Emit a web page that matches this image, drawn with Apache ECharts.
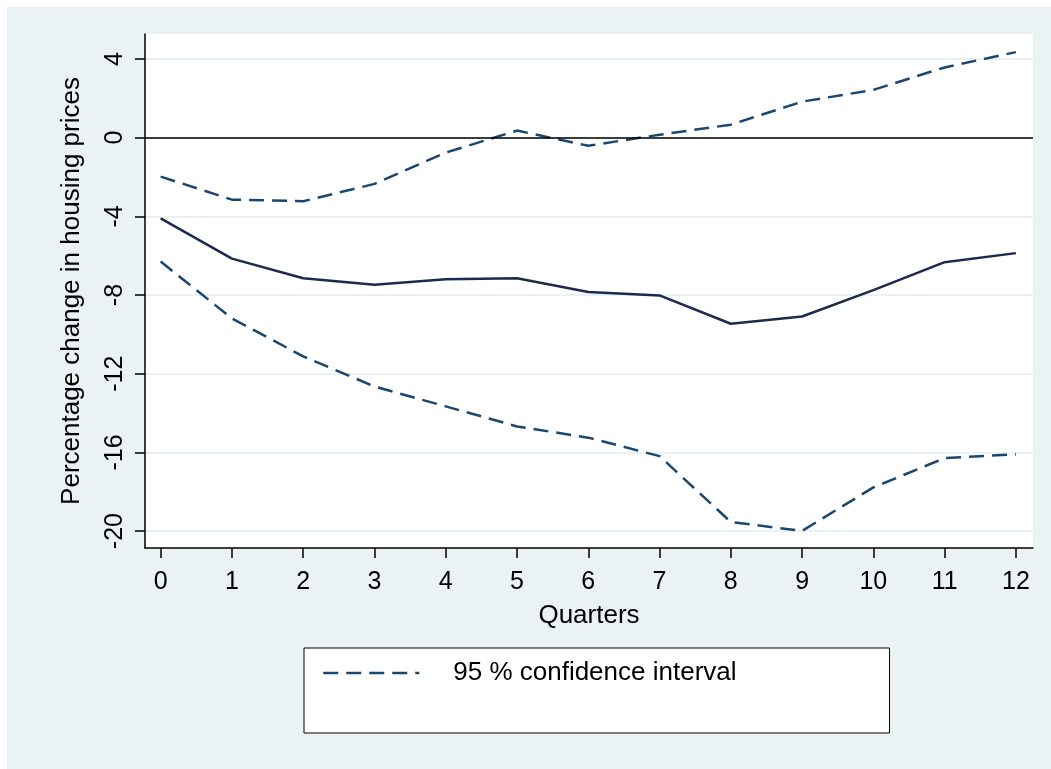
<!DOCTYPE html>
<html>
<head>
<meta charset="utf-8">
<script src="https://cdn.jsdelivr.net/npm/echarts@6/dist/echarts.min.js"></script>
<style>
  html, body { margin: 0; padding: 0; background: #ffffff; }
  #chart { position: absolute; left: 7px; top: 7px; width: 1044px; height: 762px; }
</style>
</head>
<body>
<div id="chart"></div>
<script>
// ---- data ----
const quarters = [0, 1, 2, 3, 4, 5, 6, 7, 8, 9, 10, 11, 12];
const meanChange = [-4.1, -6.15, -7.15, -7.48, -7.2, -7.15, -7.85, -8.02, -9.46, -9.09, -7.75, -6.33, -5.87];
const upperCI = [-1.98, -3.15, -3.23, -2.35, -0.76, 0.36, -0.41, 0.15, 0.66, 1.83, 2.43, 3.57, 4.35];
const lowerCI = [-6.3, -9.19, -11.12, -12.65, -13.66, -14.68, -15.25, -16.19, -19.54, -19.99, -17.78, -16.29, -16.1];
const xTickValues = [0, 1, 2, 3, 4, 5, 6, 7, 8, 9, 10, 11, 12];
const yTickValues = [-20, -16, -12, -8, -4, 0, 4];
const ciLabel = '95 % confidence interval';

const pairs = (ys) => quarters.map((q, i) => [q, ys[i]]);
const FONT = '"Liberation Sans", Arial, Helvetica, sans-serif';
const navy = '#1a476f';
const darkNavy = '#1c2a4e';

const chart = echarts.init(document.getElementById('chart'), null, { renderer: 'canvas' });
chart.setOption({
  backgroundColor: '#eaf2f3',
  animation: false,
  textStyle: { fontFamily: FONT },
  grid: {
    left: 138, top: 27, width: 888, height: 514,
    show: true, backgroundColor: '#ffffff', borderWidth: 0,
    containLabel: false, outerBoundsMode: 'none'
  },
  legend: {
    left: 297, top: 641,
    data: [ciLabel],
    backgroundColor: '#ffffff',
    borderColor: '#000000', borderWidth: 1, borderRadius: 0,
    padding: [12, 153, 47, 18],
    itemWidth: 96, itemHeight: 14,
    itemStyle: { opacity: 0 },
    lineStyle: { color: navy, width: 2.5, type: [15, 8] },
    textStyle: { fontSize: 26, color: '#000000', fontFamily: FONT, padding: [0, 0, 0, 29] },
    selectedMode: false
  },
  xAxis: {
    type: 'value', min: -0.22, max: 12.24,
    name: 'Quarters', nameLocation: 'middle', nameGap: 55,
    nameTextStyle: { fontSize: 26, color: '#000000', fontFamily: FONT },
    axisLine: { show: true, onZero: false, lineStyle: { color: '#000000', width: 1.5 } },
    axisTick: { show: true, length: 10, customValues: xTickValues, lineStyle: { color: '#000000', width: 1.5 } },
    axisLabel: { customValues: xTickValues, fontSize: 25, color: '#000000', margin: 22, fontFamily: FONT },
    splitLine: { show: false }
  },
  yAxis: {
    type: 'value', min: -20.86, max: 5.27,
    name: 'Percentage change in housing prices', nameLocation: 'middle', nameGap: 60,
    nameTextStyle: { fontSize: 26, color: '#000000', fontFamily: FONT },
    axisLine: { show: true, onZero: false, lineStyle: { color: '#000000', width: 1.5 } },
    axisTick: { show: true, length: 10, customValues: yTickValues, lineStyle: { color: '#000000', width: 1.5 } },
    axisLabel: { customValues: yTickValues, rotate: 90, fontSize: 25, color: '#000000', margin: 17, fontFamily: FONT },
    splitLine: { show: true, lineStyle: { color: '#eaf2f3', width: 2 } }
  },
  series: [
    {
      name: 'mean', type: 'line', data: pairs(meanChange),
      symbol: 'none', lineStyle: { color: darkNavy, width: 2.5 }, itemStyle: { color: darkNavy }, z: 3,
      markLine: {
        silent: true, symbol: 'none', label: { show: false },
        lineStyle: { color: '#000000', width: 1.5, type: 'solid' },
        data: [{ yAxis: 0 }]
      }
    },
    {
      name: ciLabel, type: 'line', data: pairs(upperCI),
      symbol: 'none', lineStyle: { color: navy, width: 2.5, type: [15, 8] }, itemStyle: { color: navy }, z: 3
    },
    {
      name: ciLabel, type: 'line', data: pairs(lowerCI),
      symbol: 'none', lineStyle: { color: navy, width: 2.5, type: [15, 8] }, itemStyle: { color: navy }, z: 3
    }
  ]
});
</script>
</body>
</html>
